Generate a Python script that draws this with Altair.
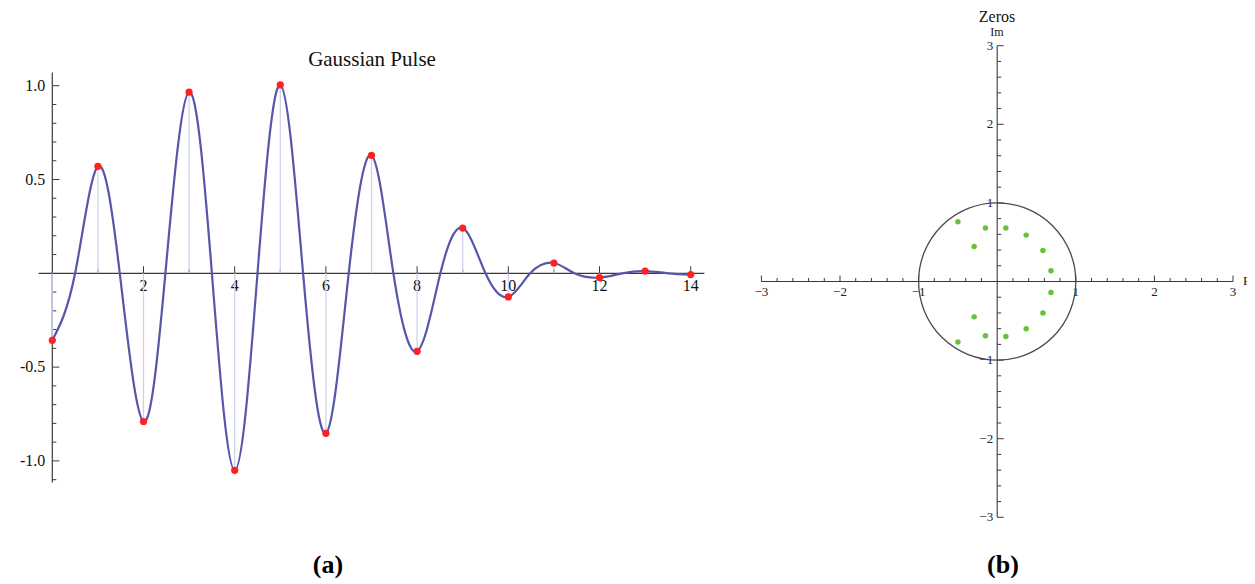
import altair as alt
import pandas as pd

# ---------------- data: panel (a) Gaussian pulse ----------------
n_idx = list(range(15))
pulse = [-0.357, 0.57, -0.79, 0.966, -1.05, 1.004, -0.853, 0.629,
         -0.416, 0.241, -0.126, 0.055, -0.023, 0.012, -0.007]

# continuous curve (extrema and zero crossings)
curve_t = [0, 0.5, 1, 1.48, 2, 2.48, 3, 3.5, 4, 4.5, 5, 5.5, 6, 6.5, 7,
           7.48, 8, 8.51, 9, 9.5, 10, 10.48, 11, 11.45, 12, 12.5, 13, 13.5, 14]
curve_v = [-0.357, 0, 0.57, 0, -0.79, 0, 0.966, 0, -1.05, 0, 1.004, 0,
           -0.853, 0, 0.629, 0, -0.416, 0, 0.241, 0, -0.126, 0, 0.055, 0,
           -0.023, 0, 0.012, 0, -0.007]

a_x_major = [2, 4, 6, 8, 10, 12, 14]
a_x_labels = ["2", "4", "6", "8", "10", "12", "14"]
a_x_minor = [1, 3, 5, 7, 9, 11, 13]
a_y_major = [-1.0, -0.5, 0.5, 1.0]
a_y_labels = ["-1.0", "-0.5", "0.5", "1.0"]
a_y_minor = [-1.1, -0.9, -0.8, -0.7, -0.6, -0.4, -0.3, -0.2, -0.1,
             0.1, 0.2, 0.3, 0.4, 0.6, 0.7, 0.8, 0.9]
a_x_axis = [-0.3, 14.3]
a_y_axis = [-1.115, 1.07]

# ---------------- data: panel (b) zeros ----------------
zero_re = [-0.50, -0.149, 0.110, 0.369, 0.582, 0.684, -0.293,
           -0.50, -0.149, 0.110, 0.369, 0.582, 0.684, -0.293]
zero_im = [0.76, 0.68, 0.68, 0.59, 0.395, 0.136, 0.446,
           -0.77, -0.69, -0.70, -0.60, -0.40, -0.14, -0.45]
circle_center_re = [0]
circle_center_im = [0]

b_major = [-3, -2, -1, 1, 2, 3]
b_labels = ["\u22123", "\u22122", "\u22121", "1", "2", "3"]
b_minor = [-2.8, -2.6, -2.4, -2.2, -1.8, -1.6, -1.4, -1.2, -0.8, -0.6, -0.4, -0.2,
           0.2, 0.4, 0.6, 0.8, 1.2, 1.4, 1.6, 1.8, 2.2, 2.4, 2.6, 2.8]
b_axis = [-3, 3]

FONT = "Liberation Serif"
AX = "#3a3a3a"

# ---------------- panel (a) ----------------
W_A, H_A = 712, 568
LX = alt.Scale(domain=[-0.9715, 14.6425], nice=False, zero=False)
LY = alt.Scale(domain=[-1.6135, 1.4142], nice=False, zero=False)


def xa(f):
    return alt.X(f, type="quantitative", scale=LX, axis=None)


def ya(f):
    return alt.Y(f, type="quantitative", scale=LY, axis=None)


df_pts = pd.DataFrame({"t": n_idx, "v": pulse, "z": [0] * len(n_idx)})
df_curve = pd.DataFrame({"t": curve_t, "v": curve_v})
df_axx = pd.DataFrame({"a": [a_x_axis[0]], "b": [a_x_axis[1]], "z": [0]})
df_axy = pd.DataFrame({"a": [a_y_axis[0]], "b": [a_y_axis[1]], "z": [0]})
df_xmaj = pd.DataFrame({"t": a_x_major, "lab": a_x_labels, "z": [0] * len(a_x_major)})
df_xmin = pd.DataFrame({"t": a_x_minor, "z": [0] * len(a_x_minor)})
df_ymaj = pd.DataFrame({"v": a_y_major, "lab": a_y_labels, "z": [0] * len(a_y_major)})
df_ymin = pd.DataFrame({"v": a_y_minor, "z": [0] * len(a_y_minor)})

a_axis_x = alt.Chart(df_axx).mark_rule(color=AX, strokeWidth=1.2).encode(
    x=xa("a"), x2="b", y=ya("z"))
a_axis_y = alt.Chart(df_axy).mark_rule(color=AX, strokeWidth=1.2).encode(
    x=xa("z"), y=ya("a"), y2="b")
a_xt_maj = alt.Chart(df_xmaj).mark_tick(orient="vertical", size=7, thickness=1,
                                       yOffset=-3.5, color=AX, opacity=1).encode(
    x=xa("t"), y=ya("z"))
a_xt_min = alt.Chart(df_xmin).mark_tick(orient="vertical", size=4, thickness=1,
                                       yOffset=-2, color=AX, opacity=1).encode(
    x=xa("t"), y=ya("z"))
a_yt_maj = alt.Chart(df_ymaj).mark_tick(orient="horizontal", size=7, thickness=1,
                                       xOffset=3.5, color=AX, opacity=1).encode(
    x=xa("z"), y=ya("v"))
a_yt_min = alt.Chart(df_ymin).mark_tick(orient="horizontal", size=4, thickness=1,
                                       xOffset=2, color=AX, opacity=1).encode(
    x=xa("z"), y=ya("v"))
a_xlab = alt.Chart(df_xmaj).mark_text(font=FONT, fontSize=16, color="#111",
                                      baseline="middle", dy=13).encode(
    x=xa("t"), y=ya("z"), text="lab:N")
a_ylab = alt.Chart(df_ymaj).mark_text(font=FONT, fontSize=16, color="#111",
                                      baseline="middle", align="right", dx=-7).encode(
    x=xa("z"), y=ya("v"), text="lab:N")

stems = alt.Chart(df_pts).mark_rule(color="#cdcdee", strokeWidth=1.2).encode(
    x=xa("t"), y=ya("v"), y2="z")
curve = alt.Chart(df_curve).mark_line(interpolate="natural", color="#5656aa",
                                      strokeWidth=2.2).encode(x=xa("t"), y=ya("v"))
dots = alt.Chart(df_pts).mark_circle(size=52, color="#ff2020", opacity=1).encode(
    x=xa("t"), y=ya("v"))

a_title = alt.Chart(df_axx).mark_text(font=FONT, fontSize=21, color="#111",
                                      baseline="middle", align="center",
                                      text="Gaussian Pulse").encode(
    x=alt.value(364), y=alt.value(52))
a_caption = alt.Chart(df_axx).mark_text(font=FONT, fontSize=26, fontWeight="bold",
                                        color="#000", baseline="middle", align="center",
                                        text="(a)").encode(
    x=alt.value(320), y=alt.value(557))

panel_a = alt.layer(
    a_axis_x, a_axis_y, a_xt_maj, a_xt_min, a_yt_maj, a_yt_min,
    a_xlab, a_ylab, stems, curve, dots, a_title, a_caption
).properties(width=W_A, height=H_A)

# ---------------- panel (b) ----------------
W_B, H_B = 527, 568
RX = alt.Scale(domain=[-3.5267, 3.1781], nice=False, zero=False)
RY = alt.Scale(domain=[-3.7468, 3.4796], nice=False, zero=False)


def xb(f):
    return alt.X(f, type="quantitative", scale=RX, axis=None)


def yb(f):
    return alt.Y(f, type="quantitative", scale=RY, axis=None)


df_zeros = pd.DataFrame({"re": zero_re, "im": zero_im})
df_circ = pd.DataFrame({"re": circle_center_re, "im": circle_center_im})
df_bax = pd.DataFrame({"a": [b_axis[0]], "b": [b_axis[1]], "z": [0]})
df_bmaj = pd.DataFrame({"p": b_major, "lab": b_labels, "z": [0] * len(b_major)})
df_bmin = pd.DataFrame({"p": b_minor, "z": [0] * len(b_minor)})

b_axis_x = alt.Chart(df_bax).mark_rule(color=AX, strokeWidth=1.1).encode(
    x=xb("a"), x2="b", y=yb("z"))
b_axis_y = alt.Chart(df_bax).mark_rule(color=AX, strokeWidth=1.1).encode(
    x=xb("z"), y=yb("a"), y2="b")
b_xt_maj = alt.Chart(df_bmaj).mark_tick(orient="vertical", size=6, thickness=1,
                                       yOffset=-3, color=AX, opacity=1).encode(
    x=xb("p"), y=yb("z"))
b_xt_min = alt.Chart(df_bmin).mark_tick(orient="vertical", size=3.5, thickness=1,
                                       yOffset=-1.75, color=AX, opacity=1).encode(
    x=xb("p"), y=yb("z"))
b_yt_maj = alt.Chart(df_bmaj).mark_tick(orient="horizontal", size=6.5, thickness=1,
                                       xOffset=3.25, color=AX, opacity=1).encode(
    x=xb("z"), y=yb("p"))
b_yt_min = alt.Chart(df_bmin).mark_tick(orient="horizontal", size=4, thickness=1,
                                       xOffset=2, color=AX, opacity=1).encode(
    x=xb("z"), y=yb("p"))
b_xlab = alt.Chart(df_bmaj).mark_text(font=FONT, fontSize=13, color="#222",
                                      baseline="middle", dy=11).encode(
    x=xb("p"), y=yb("z"), text="lab:N")
b_ylab = alt.Chart(df_bmaj).mark_text(font=FONT, fontSize=13, color="#222",
                                      baseline="middle", align="right", dx=-4).encode(
    x=xb("z"), y=yb("p"), text="lab:N")

unit_circle = alt.Chart(df_circ).mark_point(shape="circle", filled=False,
                                             size=24712, stroke="#4a4a4a",
                                             strokeWidth=1.3, opacity=1).encode(
    x=xb("re"), y=yb("im"))
zeros = alt.Chart(df_zeros).mark_circle(size=30, color="#66c23a", opacity=1).encode(
    x=xb("re"), y=yb("im"))

b_title = alt.Chart(df_bax).mark_text(font=FONT, fontSize=16, color="#151515",
                                      baseline="middle", align="center",
                                      text="Zeros").encode(
    x=alt.value(277), y=alt.value(9))
b_im = alt.Chart(df_bax).mark_text(font=FONT, fontSize=12, color="#151515",
                                   baseline="middle", align="center",
                                   text="Im").encode(
    x=alt.value(277), y=alt.value(24))
b_re = alt.Chart(df_bax).mark_text(font=FONT, fontSize=13, color="#151515",
                                   baseline="middle", align="left", clip=True,
                                   text="Re").encode(
    x=alt.value(523), y=alt.value(273))
b_caption = alt.Chart(df_bax).mark_text(font=FONT, fontSize=26, fontWeight="bold",
                                        color="#000", baseline="middle", align="center",
                                        text="(b)").encode(
    x=alt.value(283), y=alt.value(557))

panel_b = alt.layer(
    b_axis_x, b_axis_y, b_xt_maj, b_xt_min, b_yt_maj, b_yt_min,
    b_xlab, b_ylab, unit_circle, zeros, b_title, b_im, b_re, b_caption
).properties(width=W_B, height=H_B)

chart = alt.hconcat(panel_a, panel_b, spacing=0).properties(
    padding={"left": 0, "right": 0, "top": 0, "bottom": 0},
    background="white",
).configure_view(stroke=None)

chart.save("out.html", embed_options={"renderer": "svg", "actions": False})
